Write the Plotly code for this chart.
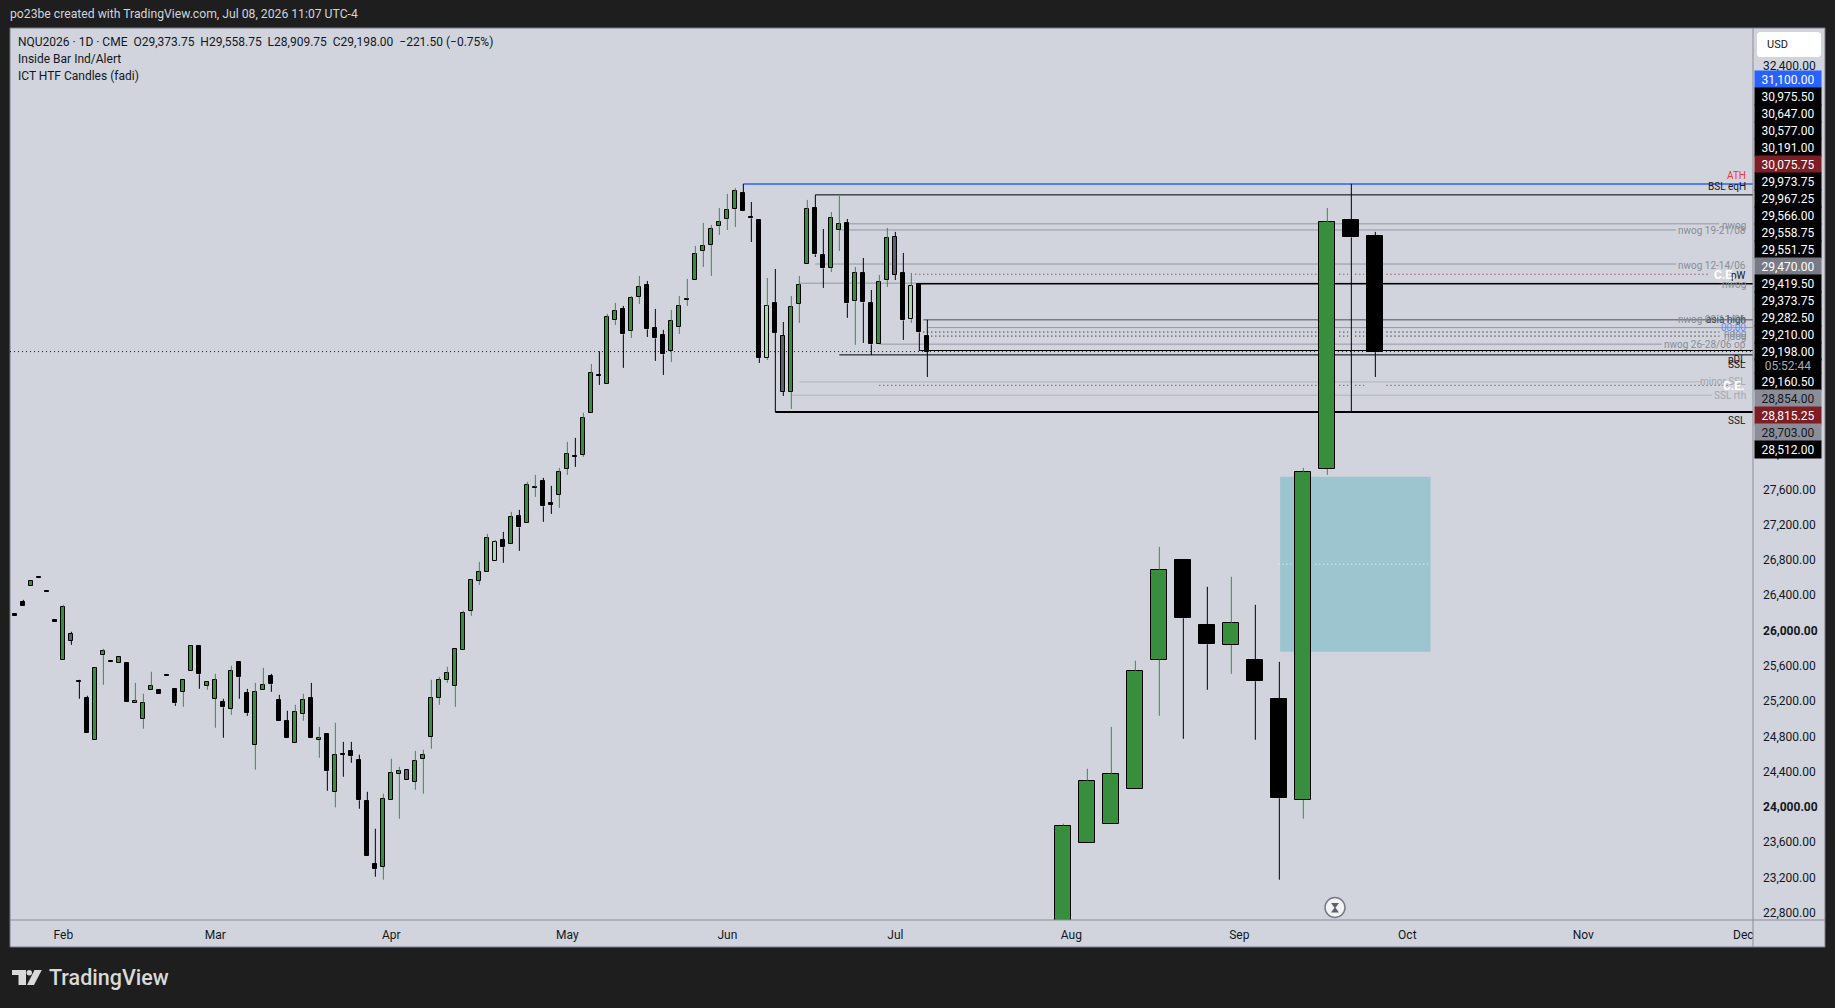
import plotly.graph_objects as go

# daily bars of NQU2026
opens = [26218, 26354, 26539, 26638, 26482, 26150, 25700, 25999, 25462, 25266,
         24793, 25757, 25677, 25666, 25662, 25213, 25031, 25360, 25356, 25530,
         25367, 25337, 25575, 25855, 25405, 25258, 25220, 25145, 25674, 25322,
         24736, 25360, 25515, 25243, 25005, 24759, 25088, 25266, 24793, 24857,
         24203, 24634, 24665, 24562, 24098, 23383, 23353, 24113, 24408, 24457,
         24317, 24578, 24827, 25269, 25473, 25405, 25813, 26256, 26596, 26698,
         26823, 27057, 27015, 27329, 27253, 27650, 27726, 27479, 27571, 27866,
         28013, 28025, 28501, 28931, 28829, 29555, 29676, 29430, 29816, 29948,
         29460, 29381, 29204, 29476, 29782, 30008, 30337, 30405, 30621, 30700,
         30814, 30999, 30722, 30693, 29124, 29751, 29378, 28739, 29737, 30190,
         30832, 30299, 30145, 30576, 30662, 29770, 30084, 29744, 29283, 30008,
         30500, 30084, 29566, 29959, 29373.75]
highs = [26218, 26382, 26600, 26638, 26484, 26150, 26326, 26020, 25475, 25294,
         25613, 25827, 25693, 25738, 25662, 25441, 25317, 25566, 25356, 25532,
         25367, 25477, 25863, 25855, 25454, 25543, 25260, 25634, 25674, 25373,
         25441, 25611, 25543, 25305, 25124, 25192, 25317, 25441, 24942, 24857,
         24988, 24772, 24772, 24625, 24205, 23786, 24183, 24580, 24489, 24457,
         24670, 24682, 25475, 25509, 25623, 25829, 26258, 26611, 26813, 27131,
         27063, 27153, 27380, 27403, 27720, 27800, 27766, 27675, 27879, 28174,
         28219, 28503, 29058, 29202, 29625, 29750, 29716, 29829, 30056, 29999,
         29682, 29444, 29670, 29829, 30022, 30396, 30657, 30634, 30827, 30986,
         31054, 31100, 30895, 30693, 30033, 30135, 29534, 29829, 30056, 30918,
         30975.5, 30589, 30781, 30963, 30702, 30158, 30260, 29897, 30067, 30600,
         30555, 30317, 30090, 29967, 29558.75]
lows = [26195, 26309, 26539, 26626, 26473, 26127, 25700, 25872, 25260, 24869,
        24793, 25419, 25677, 25666, 25220, 25213, 24920, 25360, 25311, 25521,
        25180, 25169, 25575, 25373, 25362, 24931, 24818, 25078, 25260, 25067,
        24455, 25360, 25339, 25005, 24812, 24759, 25011, 24812, 24591, 24217,
        24028, 24376, 24534, 24013, 23474, 23242, 23208, 24113, 23899, 24340,
        24228, 24183, 24693, 25192, 25441, 25169, 25813, 26201, 26552, 26698,
        26823, 26802, 27015, 26938, 27253, 27550, 27267, 27357, 27425, 27800,
        27890, 28004, 28501, 28820, 28829, 29500, 29013, 29353, 29738, 29364,
        29092, 28933, 29081, 29398, 29716, 30008, 30158, 30056, 30521, 30577,
        30611, 30791, 30441, 29069, 29103, 28512, 28695, 28548, 29523, 30190,
        30271, 29920, 30101, 30339, 29580, 29274, 29296, 29160.5, 29283, 29931,
        30010, 29330, 29523, 29205, 28909.75]
closes = [26195, 26309, 26600, 26626, 26475, 26127, 26305, 25916, 25455, 24869,
          25613, 25806, 25693, 25738, 25220, 25239, 25216, 25409, 25311, 25523,
          25209, 25477, 25863, 25538, 25454, 25477, 25163, 25579, 25504, 25096,
          25341, 25420, 25424, 25005, 24812, 25114, 25250, 24812, 24810, 24438,
          24627, 24628, 24608, 24109, 23474, 23327, 24128, 24423, 24445, 24340,
          24559, 24627, 25273, 25477, 25556, 25829, 26237, 26611, 26702, 27087,
          27042, 26978, 27325, 27204, 27688, 27666, 27442, 27462, 27835, 28040,
          28006, 28448, 28958, 28925, 29593, 29661, 29393, 29808, 29933, 29449,
          29347, 29166, 29547, 29717, 29797, 30307, 30398, 30590, 30670, 30806,
          31021, 30791, 30708, 29124, 29717, 29408, 28739, 29706, 29955, 30817,
          30300, 30141, 30715, 30647, 29744, 30092, 29755, 29279, 29990, 30488,
          30065, 29551, 29944, 29415, 29198]
inside_down_bars = [7, 49, 96, 110]  # grey bodies
inside_up_bars = [60, 94, 112]  # light green bodies

# ICT HTF candles, 3 slots apart in the empty space right of the last bar
htf_bars = [131, 134, 137, 140, 143, 146, 149, 152, 155, 158, 161, 164, 167, 170]
htf_open = [22600, 23629, 23845, 24238, 25704, 26830, 26093, 25870, 25696, 25254, 24113, 27869, 30693, 30504]
htf_high = [23843, 24466, 24942, 25691, 26983, 26830, 26530, 26643, 26326, 25679, 27879, 30827, 31100, 30555]
htf_low = [22600, 23629, 23845, 24238, 25067, 24806, 25362, 25543, 24795, 23208, 23899, 27800, 28512, 28910]
htf_close = [23822, 24332, 24411, 25579, 26724, 26173, 25878, 26123, 25458, 24132, 27835, 30670, 30492, 29192]

# axis labels
month_bars = [6, 25, 47, 69, 89, 110, 132, 153, 174, 196, 216]
month_names = ['Feb', 'Mar', 'Apr', 'May', 'Jun', 'Jul', 'Aug', 'Sep', 'Oct', 'Nov', 'Dec']
price_ticks = [22800, 23200, 23600, 24000, 24400, 24800, 25200, 25600, 26000, 26400, 26800,
               27200, 27600, 28000, 32400]

# price tags stacked on the axis
tag_texts = ['31,100.00', '30,975.50', '30,647.00', '30,577.00', '30,191.00', '30,075.75',
             '29,973.75', '29,967.25', '29,566.00', '29,558.75', '29,551.75', '29,470.00',
             '29,419.50', '29,373.75', '29,282.50', '29,210.00', '29,198.00']
tag_lower_texts = ['29,160.50', '28,854.00', '28,815.25', '28,703.00', '28,512.00']

# levels drawn from the bar they start at
black_levels = [30975.5, 29210, 29160.5]
black_starts = [100, 113, 103]
grey_levels = [30647, 30577, 30191, 29973.75, 29470, 29282.5]
grey_starts = [104, 103, 100, 98, 114, 108]
grey_ends = [213, 207.6, 207.6, 213, 217.21, 205.8]
pale_levels = [28854, 28703]
pale_starts = [98, 97]
pale_ends = [210.9, 212.1]
dotted_black_levels = [29419.5, 29373.75]
dotted_black_starts = [113.5, 114.5]
dotted_red_levels = [30075.75, 28815.25]
dotted_red_starts = [112.5, 108]
dotted_red_ends = [211.8, 214.1]
ath_level = 31100
ssl_level = 28512
pw_low_level = 29967.25
asia_high_level = 29558.75
last_close = 29198
fvg_top = 27777
fvg_mid = 26787
fvg_bottom = 25793

GREEN = '#388e3c'
BLACK = '#000000'
GREY_BODY = '#5d606b'
LIGHT_BODY = '#a5d6a7'
PANEL = '#d1d4dc'
DARK = '#1e1e1e'
FONT = 'Roboto'

W, H = 1835, 1008
PL, PR, PT, PB = 10, 1753, 28, 920
X_RANGE = [-0.67, 217.21]
Y_RANGE = [22751, 32868]


def px(x):
    return (x - PL) / (PR - PL)


def py(y):
    return (PB - y) / (PB - PT)


def note(x, y, text, color, size=10, anchor='right', weight=None, **kw):
    fig.add_annotation(xref='paper', yref='paper', x=px(x), y=py(y), text=text, showarrow=False,
                       xanchor=anchor, yanchor='middle',
                       font=dict(family=FONT, size=size, color=color, weight=weight),
                       borderpad=0, **kw)


def level(start, end, value, color, width=1, dash='solid'):
    fig.add_shape(type='line', xref='x', yref='y', x0=start, x1=end, y0=value, y1=value,
                  line=dict(color=color, width=width, dash=dash), layer='below')


def paper_path(points):
    return 'M' + ' L'.join(f'{px(a):.6f},{py(b):.6f}' for a, b in points) + ' Z'


fig = go.Figure()

# bodies
bars = list(range(len(opens)))
body_colors = []
for i in bars:
    if i in inside_down_bars:
        body_colors.append(GREY_BODY)
    elif i in inside_up_bars:
        body_colors.append(LIGHT_BODY)
    else:
        body_colors.append(GREEN if closes[i] >= opens[i] else BLACK)

fig.add_trace(go.Bar(x=bars, y=[abs(c - o) for o, c in zip(opens, closes)],
                     base=[min(o, c) for o, c in zip(opens, closes)], width=0.5,
                     marker=dict(color=body_colors, line=dict(color=BLACK, width=1)),
                     hoverinfo='skip', showlegend=False))
fig.add_trace(go.Bar(x=htf_bars, y=[abs(c - o) for o, c in zip(htf_open, htf_close)],
                     base=[min(o, c) for o, c in zip(htf_open, htf_close)], width=2,
                     marker=dict(color=[GREEN if c >= o else BLACK for o, c in zip(htf_open, htf_close)],
                                 line=dict(color=BLACK, width=1)),
                     hoverinfo='skip', showlegend=False))

# wicks
wick_x = {GREEN: [], BLACK: []}
wick_y = {GREEN: [], BLACK: []}
for xs, os_, hs, ls, cs in [(bars, opens, highs, lows, closes),
                            (htf_bars, htf_open, htf_high, htf_low, htf_close)]:
    for x, o, h, l, c in zip(xs, os_, hs, ls, cs):
        key = GREEN if c >= o else BLACK
        wick_x[key] += [x, x, None, x, x, None]
        wick_y[key] += [max(o, c), h, None, min(o, c), l, None]
for key in wick_x:
    fig.add_trace(go.Scatter(x=wick_x[key], y=wick_y[key], mode='lines', hoverinfo='skip', showlegend=False,
                             line=dict(color=key, width=1)))

# panel behind everything
fig.add_shape(type='rect', xref='paper', yref='paper', x0=px(10), x1=px(1825), y0=py(947), y1=py(28),
              fillcolor=PANEL, line=dict(color='#787b86', width=1), layer='below')

# fair value gap box
fig.add_shape(type='rect', xref='x', yref='y', x0=158.1, x1=176.9, y0=fvg_bottom, y1=fvg_top,
              fillcolor='#9cc5cf', line=dict(width=0), layer='below')
level(157.9, 159.5, fvg_mid, '#ffffff', dash='1px,3px')
level(162.5, 176.6, fvg_mid, '#ffffff', dash='1px,3px')

# levels, greys first so the black ones stay on top
for value, start, end in zip(grey_levels, grey_starts, grey_ends):
    level(start, end, value, '#9598a1')
level(113.5, X_RANGE[1], asia_high_level, '#787b86', width=1.5)
for value, start, end in zip(pale_levels, pale_starts, pale_ends):
    level(start, end, value, '#b2b5be')
level(91, X_RANGE[1], ath_level, '#2962ff', width=1.5)
for value, start in zip(black_levels, black_starts):
    level(start, X_RANGE[1], value, BLACK)
level(113, X_RANGE[1], pw_low_level, BLACK, width=1.5)
level(95, X_RANGE[1], ssl_level, BLACK, width=2)

# dotted levels leave a gap around the last HTF candles
gaps = [(162.7, 165.5), (166.6, 167.5), (168.6, 171.4)]


def dotted(start, end, value, color):
    left = start
    for a, b in gaps:
        level(left, a, value, color, dash='1px,3px')
        left = b
    level(left, end, value, color, dash='1px,3px')


for value, start in zip(dotted_black_levels, dotted_black_starts):
    dotted(start, 213, value, BLACK)
for value, start, end in zip(dotted_red_levels, dotted_red_starts, dotted_red_ends):
    dotted(start, end, value, '#801922')
level(X_RANGE[0], X_RANGE[1], last_close, '#131722', dash='1px,3px')

# pane separators
fig.add_shape(type='line', xref='paper', yref='paper', x0=px(1753), x1=px(1753), y0=py(947), y1=py(28),
              line=dict(color='#8a8d96', width=1))
fig.add_shape(type='line', xref='paper', yref='paper', x0=px(10), x1=px(1825), y0=py(920), y1=py(920),
              line=dict(color='#8a8d96', width=1))

# top and legend text
note(9, 14, 'po23be created with TradingView.com, Jul 08, 2026 11:07 UTC-4', '#d1d4dc', size=12.2, anchor='left')
note(17, 41.5, 'NQU2026 · 1D · CME&nbsp;&nbsp;O29,373.75&nbsp;&nbsp;H29,558.75&nbsp;&nbsp;L28,909.75&nbsp;&nbsp;'
     'C29,198.00&nbsp;&nbsp;−221.50 (−0.75%)', '#131722', size=12, anchor='left')
note(17, 59, 'Inside Bar Ind/Alert', '#131722', size=12, anchor='left')
note(17, 76, 'ICT HTF Candles (fadi)', '#131722', size=12, anchor='left')

# labels on the right side of the levels
LABEL_X = 1746.7
grey_text = '#8a8d96'
pale_text = '#a3a6af'
for text, y, color in [('ATH', 175.7, '#f23645'), ('BSL eqH', 186.7, '#131722'),
                       ('nwog', 225.7, grey_text), ('nwog 19-21/08', 230.7, grey_text),
                       ('nwog 12-14/06', 265, grey_text), ('pW', 275, '#131722'), ('nwog', 284.3, grey_text),
                       ('nwog 09-11/06', 320, grey_text), ('asia high', 320, '#4a4d57'),
                       ('00:00', 327.7, '#5b8cff'), ('ndog', 333, grey_text), ('ndog', 336.5, grey_text),
                       ('nwog 26-28/06 op', 344.3, grey_text), ('pDL', 360, '#131722'), ('SSL', 364, '#131722'),
                       ('minor SSL', 381.7, pale_text), ('SSL rth', 395, pale_text), ('SSL', 420.7, '#131722')]:
    note(LABEL_X, y, text, color)
note(1737, 275, '<b>C.E.</b>', '#ffffff', size=12)
note(1746, 385.7, '<b>C.E.</b>', '#ffffff', size=12)

# USD box
fig.add_shape(type='path', xref='paper', yref='paper', fillcolor='#ffffff', line=dict(width=0),
              path=paper_path([(1759, 32), (1819, 32), (1821, 34), (1821, 55), (1819, 57), (1759, 57), (1757, 55), (1757, 34)]))
note(1766, 44.5, 'USD', '#131722', size=11, anchor='left')

# stacked price tags
tag_fill = {'31,100.00': '#2962ff', '30,075.75': '#7f1d24', '29,470.00': '#787b86',
            '28,854.00': '#8b8e98', '28,815.25': '#7f1d24', '28,703.00': '#8b8e98'}
dark_text = ['28,854.00', '28,703.00']


def tag(y, text, height=17):
    note(1754, y, text, '#131722' if text in dark_text else '#ffffff', size=12, anchor='left', width=66,
         height=height, align='center', bgcolor=tag_fill.get(text, BLACK))


for k, text in enumerate(tag_texts):
    tag(79.3 + 17 * k, text)
note(1754, 366.3, '05:52:44', '#a9acb5', size=12, anchor='left', width=66, height=14, align='center', bgcolor=BLACK)
for k, text in enumerate(tag_lower_texts):
    tag(381.7 + 17 * k, text)

# hourglass badge
fig.add_shape(type='circle', xref='paper', yref='paper', x0=px(1325), x1=px(1345), y0=py(917.5), y1=py(897.5),
              fillcolor='#f2f3f5', line=dict(color='#787b86', width=1.5))
fig.add_shape(type='path', xref='paper', yref='paper', fillcolor='#5d606b', line=dict(width=0),
              path=paper_path([(1331, 903), (1339, 903), (1335.5, 907.7), (1339, 912.5), (1331, 912.5), (1334.5, 907.7)]))

# logo
note(48, 977, 'TradingView', '#d9d9d9', size=21.5, anchor='left', weight=500)
fig.add_shape(type='path', xref='paper', yref='paper', fillcolor='#d9d9d9', line=dict(width=0),
              path=paper_path([(12, 970), (26, 970), (26, 985), (18.5, 985), (18.5, 975), (12, 975)]))
fig.add_shape(type='circle', xref='paper', yref='paper', x0=px(26.5), x1=px(32), y0=py(975.5), y1=py(970),
              fillcolor='#d9d9d9', line=dict(width=0))
fig.add_shape(type='path', xref='paper', yref='paper', fillcolor='#d9d9d9', line=dict(width=0),
              path=paper_path([(34.5, 970), (41.8, 970), (34, 985), (27, 985)]))

fig.update_layout(
    width=W, height=H, autosize=False,
    margin=dict(l=PL, r=W - PR, t=PT, b=H - PB, pad=0),
    paper_bgcolor=DARK, plot_bgcolor=PANEL,
    barmode='overlay', bargap=0, showlegend=False, hovermode=False,
    font=dict(family=FONT, size=12, color='#131722'),
    xaxis=dict(range=X_RANGE, tickmode='array', tickvals=month_bars, ticktext=month_names,
               showgrid=False, zeroline=False, showline=False, ticks='', tickfont=dict(size=12, color='#131722'),
               ticklabelstandoff=6),
    yaxis=dict(range=Y_RANGE, side='right', tickmode='array', tickvals=price_ticks,
               ticktext=[(f'<b>{p:,.2f}</b>' if p % 2000 == 0 else f'{p:,.2f}') for p in price_ticks],
               showgrid=False, zeroline=False, showline=False, ticks='', tickfont=dict(size=12, color='#131722'),
               ticklabelstandoff=9, ticklabelshift=-3),
)

fig.write_html('out.html', config={'displayModeBar': False},
               post_script="document.body.style.margin='0';document.body.style.overflow='hidden';")
